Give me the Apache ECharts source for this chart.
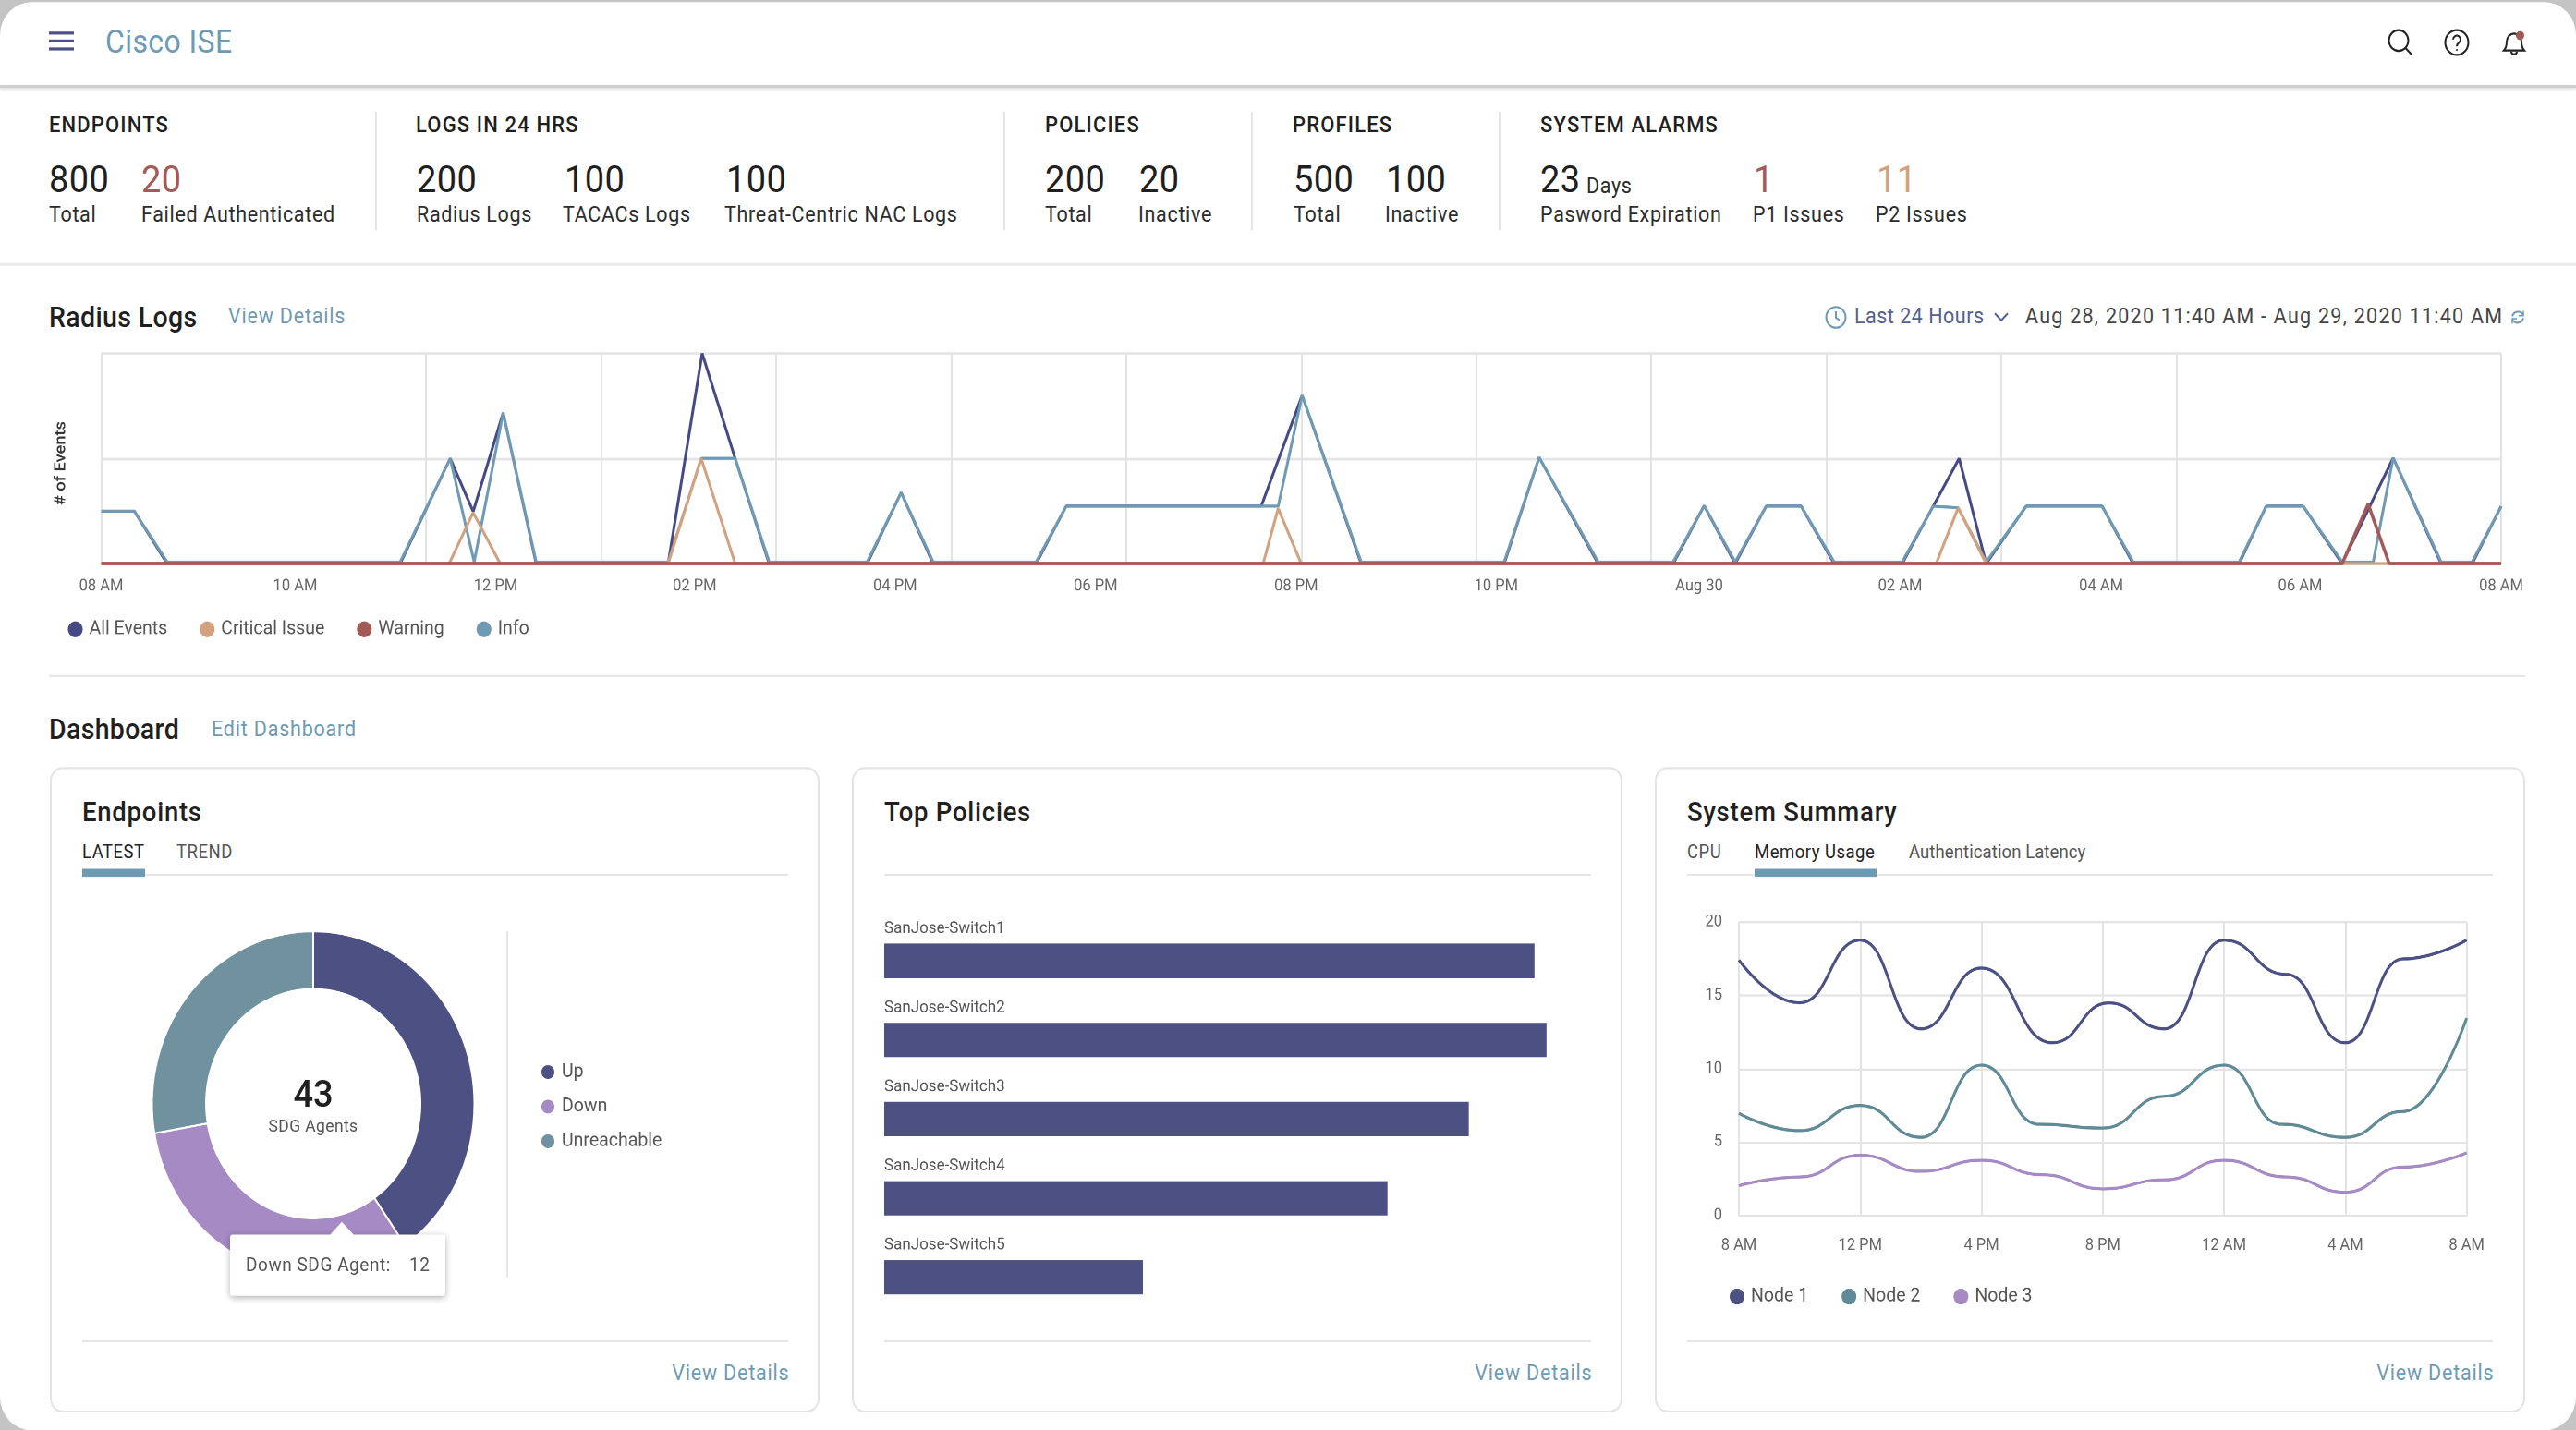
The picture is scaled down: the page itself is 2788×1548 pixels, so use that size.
<!DOCTYPE html>
<html>
<head>
<meta charset="utf-8">
<title>Cisco ISE</title>
<script src="https://cdn.jsdelivr.net/npm/echarts@6/dist/echarts.min.js"></script>
<style>
  :root { --k: 1.07; }
  html, body { margin: 0; height: 100%; overflow: hidden; background: #c4c4c4; }
  /* the source screenshot is stretched vertically, so the whole board is too */
  #app { position: absolute; left: 0; top: 0; width: 2788px; height: calc(1548px / var(--k)); transform: scaleY(var(--k)); transform-origin: 0 0; font-family: Roboto, sans-serif; color: #1f1f1f; }
  #frame { position: absolute; left: 0; right: 0; top: 2px; bottom: 0; background: #fff; border-radius: 34px; }
  .t { position: absolute; top: calc(var(--y) * 1px / var(--k)); transform: translateY(-50%); white-space: nowrap; }
  .hl { position: absolute; height: 2px; top: calc(var(--y) * 1px / var(--k)); background: #e6e6e6; }
  .vl { position: absolute; width: 2px; top: calc(var(--y) * 1px / var(--k)); height: calc(var(--h) * 1px / var(--k)); background: #e6e6e6; }
  .kh { font-size: 22px; font-weight: 500; letter-spacing: 1.15px; }
  .kv { font-size: 38px; letter-spacing: .4px; }
  .ks { font-size: 21.5px; letter-spacing: .68px; color: #2c2c2c; }
  .h2 { font-size: 28.5px; font-weight: 500; letter-spacing: .35px; }
  .h3 { font-size: 27.5px; font-weight: 500; letter-spacing: .75px; }
  .link { font-size: 21.5px; letter-spacing: .8px; color: #6f9ab3; }
  .right { transform: translate(-100%, -50%); }
  .tab { font-size: 18.5px; letter-spacing: .5px; color: #555; }
  .tab.on { color: #222; }
  .bar { position: absolute; height: 8px; top: calc(940px / var(--k)); background: #6f9ab3; }
  .card { position: absolute; top: calc(830px / var(--k)); height: calc(699px / var(--k)); box-sizing: border-box; border: 2px solid #e4e4e4; border-radius: 14px; }
  .chart { position: absolute; left: calc(var(--l) * 1px); top: calc(var(--y) * 1px / var(--k)); width: calc(var(--w) * 1px); height: calc(var(--h) * 1px / var(--k)); }
  svg.t { overflow: visible; }
</style>
</head>
<body>
<div id="app">
  <div id="frame"></div>
  <div class="hl" style="--y:92;left:0;right:0;height:3px;background:#cfcfcf;box-shadow:0 2px 3px #e2e2e2"></div>
  <div class="hl" style="--y:285;left:0;right:0;height:3px;background:#ececec"></div>

  <svg class="t" style="left:53px;--y:45" width="27" height="20" fill="#4d5083"><rect y="0" width="27" height="3"/><rect y="8" width="27" height="3"/><rect y="16" width="27" height="3"/></svg>
  <div class="t" style="left:114px;--y:45;font-size:32px;letter-spacing:.4px;color:#6f9ab3">Cisco ISE</div>
  <svg class="t" style="left:2584px;--y:46" width="28" height="26" fill="none" stroke="#222" stroke-width="2"><circle cx="12" cy="11" r="10.5"/><line x1="19.5" y1="18.5" x2="27" y2="26"/></svg>
  <svg class="t" style="left:2645px;--y:46" width="28" height="26" fill="none" stroke="#222" stroke-width="2"><circle cx="14" cy="13" r="12.5"/><path d="M10 10 a4 4 0 1 1 6 3.5 q-2 1.2 -2 3.5" /><circle cx="14" cy="20.5" r="1" fill="#222" stroke="none"/></svg>
  <svg class="t" style="left:2708px;--y:46" width="26" height="26" fill="none" stroke="#222" stroke-width="2"><path d="M2 21 q3 -3 3 -9 a8 8 0 0 1 16 0 q0 6 3 9 z"/><path d="M10 22 a3 3 0 0 0 6 0"/><circle cx="19.5" cy="6" r="4.5" fill="#a35a57" stroke="none"/></svg>

  <div class="t kh" style="left:53px;--y:135">ENDPOINTS</div>
  <div class="t kv" style="left:53px;--y:193.5">800</div>
  <div class="t kv" style="left:153px;--y:193.5;color:#a35a57">20</div>
  <div class="t ks" style="left:53px;--y:232">Total</div>
  <div class="t ks" style="left:153px;--y:232">Failed Authenticated</div>
  <div class="vl" style="left:406px;--y:121;--h:128"></div>

  <div class="t kh" style="left:450px;--y:135">LOGS IN 24 HRS</div>
  <div class="t kv" style="left:451px;--y:193.5">200</div>
  <div class="t kv" style="left:611px;--y:193.5">100</div>
  <div class="t kv" style="left:786px;--y:193.5">100</div>
  <div class="t ks" style="left:451px;--y:232">Radius Logs</div>
  <div class="t ks" style="left:609px;--y:232">TACACs Logs</div>
  <div class="t ks" style="left:784px;--y:232">Threat-Centric NAC Logs</div>
  <div class="vl" style="left:1086px;--y:121;--h:128"></div>

  <div class="t kh" style="left:1131px;--y:135">POLICIES</div>
  <div class="t kv" style="left:1131px;--y:193.5">200</div>
  <div class="t kv" style="left:1233px;--y:193.5">20</div>
  <div class="t ks" style="left:1131px;--y:232">Total</div>
  <div class="t ks" style="left:1232px;--y:232">Inactive</div>
  <div class="vl" style="left:1354px;--y:121;--h:128"></div>

  <div class="t kh" style="left:1399px;--y:135">PROFILES</div>
  <div class="t kv" style="left:1400px;--y:193.5">500</div>
  <div class="t kv" style="left:1500px;--y:193.5">100</div>
  <div class="t ks" style="left:1400px;--y:232">Total</div>
  <div class="t ks" style="left:1499px;--y:232">Inactive</div>
  <div class="vl" style="left:1622px;--y:121;--h:128"></div>

  <div class="t kh" style="left:1667px;--y:135">SYSTEM ALARMS</div>
  <div class="t kv" style="left:1667px;--y:193.5">23</div>
  <div class="t ks" style="left:1717px;--y:201">Days</div>
  <div class="t kv" style="left:1898px;--y:193.5;color:#a35a57">1</div>
  <div class="t kv" style="left:2031px;--y:193.5;color:#d2a27f">11</div>
  <div class="t ks" style="left:1667px;--y:232">Pasword Expiration</div>
  <div class="t ks" style="left:1897px;--y:232">P1 Issues</div>
  <div class="t ks" style="left:2030px;--y:232">P2 Issues</div>

  <div class="t h2" style="left:53px;--y:343">Radius Logs</div>
  <div class="t link" style="left:247px;--y:342">View Details</div>
  <svg class="t" style="left:1975px;--y:343" width="24" height="24" fill="none" stroke="#6f9ab3" stroke-width="2"><circle cx="12" cy="12" r="10.5"/><path d="M12 6 v6.5 l4 2.5"/></svg>
  <div class="t" style="left:2007px;--y:342;font-size:21.5px;letter-spacing:.5px;color:#55608f">Last 24 Hours</div>
  <svg class="t" style="left:2158px;--y:344" width="16" height="10" fill="none" stroke="#55608f" stroke-width="2"><path d="M1 1 l7 7 l7 -7"/></svg>
  <div class="t" style="left:2192px;--y:342;font-size:21.5px;letter-spacing:1.25px;color:#444">Aug 28, 2020 11:40 AM - Aug 29, 2020 11:40 AM</div>
  <svg class="t" style="left:2717px;--y:343" width="16" height="16" fill="none" stroke="#6f9ab3" stroke-width="2"><path d="M14 6 a6.5 6.5 0 0 0 -12 1 M2 10 a6.5 6.5 0 0 0 12 -1"/><path d="M14 1.5 v5 h-5 M2 14.5 v-5 h5" stroke-width="1.4"/></svg>

  <div class="chart" id="radiusChart" style="--l:0;--y:360;--w:2788;--h:340"></div>
  <div class="hl" style="--y:731;left:53px;width:2680px"></div>

  <div class="t h2" style="left:53px;--y:790">Dashboard</div>
  <div class="t link" style="left:229px;--y:789">Edit Dashboard</div>

  <div class="card" style="left:54px;width:833px"></div>
  <div class="card" style="left:922px;width:834px"></div>
  <div class="card" style="left:1791px;width:942px"></div>

  <div class="t h3" style="left:89px;--y:878">Endpoints</div>
  <div class="t tab on" style="left:89px;--y:922">LATEST</div>
  <div class="t tab" style="left:191px;--y:922">TREND</div>
  <div class="hl" style="--y:946;left:89px;width:764px"></div>
  <div class="bar" style="left:89px;width:68px"></div>
  <div class="vl" style="left:548px;--y:1008;--h:374"></div>
  <div class="chart" id="endpointsChart" style="--l:56;--y:960;--w:760;--h:470"></div>
  <div class="t" style="left:339px;--y:1185;font-size:38px;font-weight:500;transform:translate(-50%,-50%)">43</div>
  <div class="t" style="left:339px;--y:1219;font-size:17.5px;letter-spacing:.4px;color:#555;transform:translate(-50%,-50%)">SDG Agents</div>
  <div class="hl" style="--y:1451;left:89px;width:764px"></div>
  <div class="t link right" style="left:854.5px;--y:1486">View Details</div>

  <div class="t h3" style="left:957px;--y:878">Top Policies</div>
  <div class="hl" style="--y:946;left:957px;width:765px"></div>
  <div class="chart" id="policiesChart" style="--l:924;--y:960;--w:830;--h:480"></div>
  <div class="hl" style="--y:1451;left:957px;width:765px"></div>
  <div class="t link right" style="left:1723.5px;--y:1486">View Details</div>

  <div class="t h3" style="left:1826px;--y:878">System Summary</div>
  <div class="t tab" style="left:1826px;--y:922">CPU</div>
  <div class="t tab on" style="left:1899px;--y:922">Memory Usage</div>
  <div class="t tab" style="left:2066px;--y:922;letter-spacing:.1px">Authentication Latency</div>
  <div class="hl" style="--y:946;left:1826px;width:872px"></div>
  <div class="bar" style="left:1899px;width:132px"></div>
  <div class="chart" id="summaryChart" style="--l:1793;--y:960;--w:930;--h:470"></div>
  <div class="hl" style="--y:1451;left:1826px;width:872px"></div>
  <div class="t link right" style="left:2699.5px;--y:1486">View Details</div>
</div>

<script>
// Radius Logs: [hour since 08 AM, events]
const radiusLabels = ['08 AM', '10 AM', '12 PM', '02 PM', '04 PM', '06 PM', '08 PM', '10 PM', 'Aug 30', '02 AM', '04 AM', '06 AM', '08 AM']
const radiusLabelHours = [0, 1.94, 3.945, 5.935, 7.94, 9.945, 11.95, 13.95, 15.98, 17.99, 20, 21.99, 24]
const radiusGridHours = [0, 3.25, 5, 6.75, 8.5, 10.25, 12, 13.75, 15.5, 17.25, 19, 20.75, 24]

const infoEvents = [[0, 1], [0.33, 1], [0.66, 0.03], [2.99, 0.03], [3.49, 2], [3.73, 0.03], [4.02, 2.87], [4.35, 0.03], [5.67, 0.03], [6, 2], [6.34, 2], [6.68, 0.03], [7.66, 0.03], [8, 1.35], [8.32, 0.03], [9.35, 0.03], [9.65, 1.09], [11.77, 1.09], [12.01, 3.2], [12.6, 0.03], [14.03, 0.03], [14.38, 2.02], [14.97, 0.03], [15.72, 0.03], [16.03, 1.1], [16.34, 0.03], [16.65, 1.09], [17, 1.09], [17.33, 0.03], [18.01, 0.03], [18.32, 1.09], [18.57, 1.06], [18.85, 0.03], [19.25, 1.09], [20.01, 1.09], [20.32, 0.03], [21.38, 0.03], [21.65, 1.09], [22.02, 1.09], [22.41, 0.03], [22.72, 0.03], [22.92, 2.01], [23.4, 0.03], [23.71, 0.03], [24, 1.09]]
const allEvents = [[0, 1], [0.33, 1], [0.66, 0], [2.99, 0], [3.49, 2], [3.72, 0.99], [4.02, 2.87], [4.35, 0], [5.67, 0], [6.01, 4], [6.34, 2], [6.68, 0], [7.66, 0], [8, 1.35], [8.32, 0], [9.35, 0], [9.65, 1.09], [11.6, 1.09], [12.01, 3.2], [12.6, 0], [14.03, 0], [14.38, 2.02], [14.97, 0], [15.72, 0], [16.03, 1.1], [16.34, 0], [16.65, 1.09], [17, 1.09], [17.33, 0], [18.01, 0], [18.32, 1.09], [18.58, 2], [18.85, 0], [19.25, 1.09], [20.01, 1.09], [20.32, 0], [21.38, 0], [21.65, 1.09], [22.02, 1.09], [22.41, 0], [22.92, 2.01], [23.4, 0], [23.71, 0], [24, 1.09]]
const criticalEvents = [[0, 0], [3.48, 0], [3.72, 0.97], [3.99, 0], [5.67, 0], [6, 2], [6.34, 0], [11.62, 0], [11.77, 1.05], [12, 0], [18.35, 0], [18.57, 1.06], [18.85, 0], [24, 0]]
const warningEvents = [[0, 0], [22.41, 0], [22.67, 1.13], [22.88, 0], [24, 0]]

// Endpoints donut
const endpointNames = ['Up', 'Down', 'Unreachable']
const endpointValues = [17.35, 13.72, 11.93]
const downTooltipCount = 12

// Top Policies
const policyNames = ['SanJose-Switch1', 'SanJose-Switch2', 'SanJose-Switch3', 'SanJose-Switch4', 'SanJose-Switch5']
const policyValues = [92, 93.7, 82.7, 71.2, 36.6]

// System Summary memory usage: [hour since 8 AM, value]
const summaryLabels = ['8 AM', '12 PM', '4 PM', '8 PM', '12 AM', '4 AM', '8 AM']
const node1 = [[0, 17.42], [2, 14.5], [4, 18.78], [6, 12.73], [8, 16.87], [10.34, 11.78], [12.2, 14.5], [14.03, 12.73], [16, 18.78], [18.04, 16.45], [20, 11.78], [21.9, 17.5], [24, 18.78]]
const node2 = [[0, 6.97], [2, 5.79], [4, 7.5], [6, 5.33], [8, 10.25], [9.9, 6.22], [12, 5.96], [14.03, 8.13], [16, 10.25], [17.9, 6.22], [20, 5.33], [21.9, 7.09], [24, 13.46]]
const node3 = [[0, 2.03], [2, 2.63], [4, 4.11], [6, 3.01], [8, 3.76], [10, 2.78], [12, 1.82], [14.03, 2.43], [16, 3.76], [18.04, 2.63], [20, 1.59], [21.9, 3.3], [24, 4.28]]

const K = 1.07
const ky = y => y / K
const FONT = 'Roboto'
const GRID = '#e4e4e4'
const NAVY = '#4d5083'
const initChart = id => echarts.init(document.getElementById(id), null, { devicePixelRatio: 2 })

const legendText = { fontSize: 19.5, color: '#555', padding: [0, 0, 0, 2] }

const radiusLine = (name, data, color, width) => ({
  name, data, type: 'line', xAxisIndex: 0, symbol: 'none', animation: false, clip: false,
  lineStyle: { color, width: width || 3 }, itemStyle: { color }
})

initChart('radiusChart').setOption({
  animation: false,
  textStyle: { fontFamily: FONT },
  grid: { left: 109.5, width: 2597.5, top: ky(23), height: ky(227.5) },
  legend: {
    left: 73.5, top: ky(311), padding: 0, icon: 'circle', itemWidth: 16, itemHeight: 16, itemGap: 35,
    textStyle: legendText,
    data: ['All Events', 'Critical Issue', 'Warning', 'Info']
  },
  xAxis: [{
    type: 'value', min: 0, max: 24,
    axisLine: { show: false }, axisTick: { show: false }, splitLine: { show: false },
    axisLabel: {
      customValues: radiusLabelHours, margin: 15, fontSize: 16.5, color: '#666',
      formatter: v => radiusLabels[radiusLabelHours.indexOf(v)]
    }
  }, {
    type: 'value', min: 0, max: 24, position: 'bottom',
    axisLine: { show: false }, axisLabel: { show: false },
    axisTick: { show: false, customValues: radiusGridHours },
    splitLine: { show: true, lineStyle: { color: GRID, width: 2 } }
  }],
  yAxis: {
    type: 'value', min: 0, max: 4, interval: 2,
    name: '# of Events', nameLocation: 'middle', nameGap: 35, nameRotate: 90,
    nameTextStyle: { fontSize: 17, fontWeight: 500, color: '#333', padding: [0, 10, 0, 0] },
    axisLine: { show: false }, axisTick: { show: false }, axisLabel: { show: false },
    splitLine: { lineStyle: { color: GRID, width: 2.5 } }
  },
  series: [
    radiusLine('All Events', allEvents, '#454a85'),
    radiusLine('Info', infoEvents, '#6f9ab3'),
    radiusLine('Critical Issue', criticalEvents, '#d2a27f'),
    radiusLine('Warning', warningEvents, '#a35a57', 3.5)
  ]
})

const endpointsChart = initChart('endpointsChart')
endpointsChart.setOption({
  animation: false,
  textStyle: { fontFamily: FONT },
  color: [NAVY, '#a58ac3', '#6f929e'],
  legend: {
    orient: 'vertical', left: 528, top: ky(190), padding: 0, icon: 'circle', itemWidth: 16, itemHeight: 16, itemGap: 15,
    textStyle: legendText,
    data: endpointNames
  },
  tooltip: {
    trigger: 'item', alwaysShowContent: true, transitionDuration: 0,
    position: [193, ky(377)], padding: 0, borderWidth: 0, backgroundColor: '#fff',
    extraCssText: 'box-shadow:0 2px 7px rgba(0,0,0,.3);border-radius:3px;',
    formatter: p => `<div style="position:relative;width:233px;height:${ky(66)}px;line-height:${ky(66)}px;font-family:Roboto;font-size:19px;letter-spacing:.55px;color:#555;text-indent:17px;white-space:nowrap">`
      + `<span style="position:absolute;left:112px;top:-9px;width:18px;height:18px;background:#fff;transform:rotate(45deg)"></span>`
      + `<span style="position:relative">${p.name} SDG Agent:</span><span style="position:absolute;left:177px;top:0">${downTooltipCount}</span></div>`
  },
  series: [{
    type: 'pie', radius: [116, 174.5], center: [283, ky(235)], startAngle: 90, animation: false,
    label: { show: false }, labelLine: { show: false },
    itemStyle: { borderColor: '#fff', borderWidth: 2 },
    data: endpointNames.map((name, i) => ({ name, value: endpointValues[i] }))
  }]
})
endpointsChart.dispatchAction({ type: 'showTip', seriesIndex: 0, dataIndex: 1 })

initChart('policiesChart').setOption({
  animation: false,
  textStyle: { fontFamily: FONT },
  grid: { left: 33, width: 765, top: ky(37.5), height: ky(428.25) },
  xAxis: { type: 'value', min: 0, max: 100, show: false },
  yAxis: {
    type: 'category', inverse: true, data: policyNames,
    axisLine: { show: false }, axisTick: { show: false }, splitLine: { show: false },
    axisLabel: {
      inside: true, margin: 0, align: 'left', verticalAlign: 'bottom',
      padding: [0, 0, 24, 0], fontSize: 17, color: '#555'
    }
  },
  series: [{
    type: 'bar', data: policyValues, barWidth: ky(37.2), animation: false,
    itemStyle: { color: NAVY }
  }]
})

const summaryLine = (name, data, color) => ({
  name, data, type: 'line', smooth: 0.5, smoothMonotone: 'x', symbol: 'none', animation: false,
  lineStyle: { color, width: 3 }, itemStyle: { color }
})

initChart('summaryChart').setOption({
  animation: false,
  textStyle: { fontFamily: FONT },
  grid: { left: 89, width: 787.6, top: ky(38.5), height: ky(317.5) },
  legend: {
    left: 79, top: ky(433), padding: 0, icon: 'circle', itemWidth: 16, itemHeight: 16, itemGap: 36,
    textStyle: legendText,
    data: ['Node 1', 'Node 2', 'Node 3']
  },
  xAxis: {
    type: 'value', min: 0, max: 24, interval: 4,
    axisLine: { lineStyle: { color: GRID, width: 2 } }, axisTick: { show: false },
    splitLine: { lineStyle: { color: GRID, width: 2 } },
    axisLabel: { margin: 22, fontSize: 16.5, color: '#666', formatter: v => summaryLabels[v / 4] }
  },
  yAxis: {
    type: 'value', min: 0, max: 20, interval: 5,
    axisLine: { show: true, lineStyle: { color: GRID, width: 2 } }, axisTick: { show: false },
    splitLine: { lineStyle: { color: GRID, width: 2 } },
    axisLabel: { margin: 18, fontSize: 16.5, color: '#666' }
  },
  series: [
    summaryLine('Node 1', node1, '#4d5083'),
    summaryLine('Node 2', node2, '#5f8a96'),
    summaryLine('Node 3', node3, '#a58ac3')
  ]
})
</script>
</body>
</html>
